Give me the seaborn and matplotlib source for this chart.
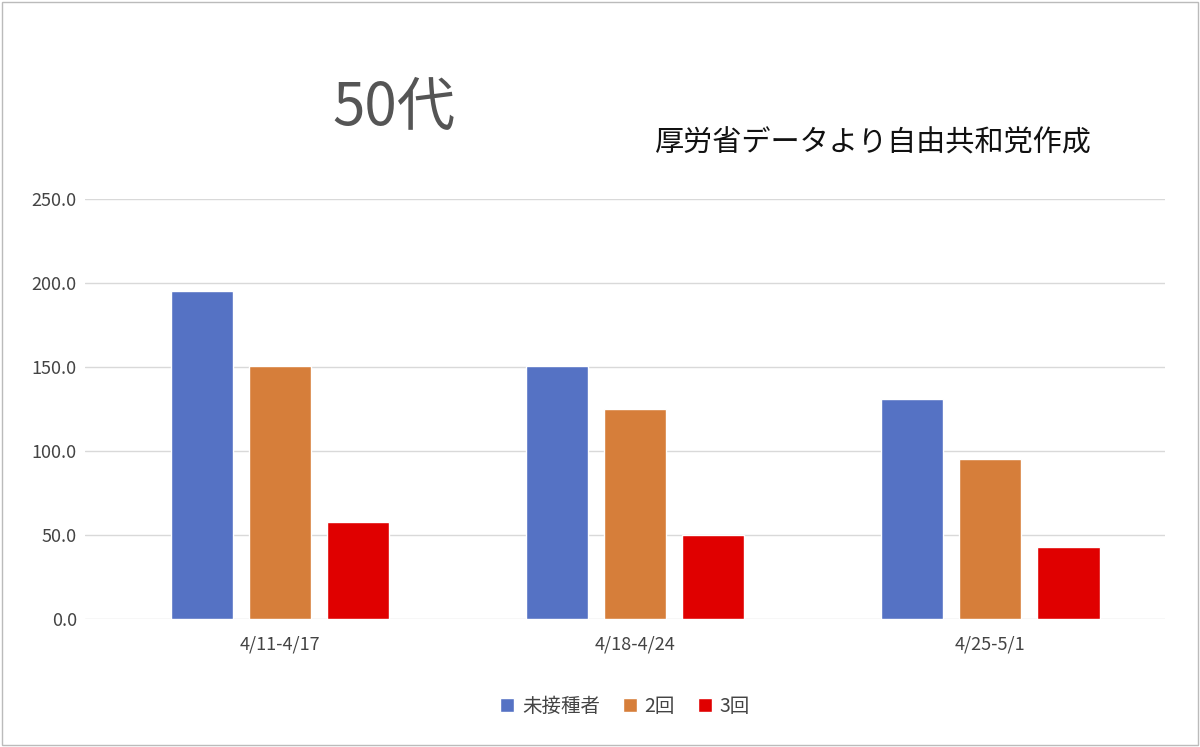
import matplotlib
matplotlib.use("Agg")
import matplotlib.pyplot as plt
import seaborn as sns
import pandas as pd
from matplotlib.patches import Rectangle

weeks = ["4/11-4/17", "4/18-4/24", "4/25-5/1"]
groups = ["未接種者", "2回", "3回"]
unvaccinated = [195.2, 150.4, 130.7]
dose2 = [150.4, 124.8, 95.5]
dose3 = [57.9, 50.1, 43.0]
colors = ["#5572c4", "#d67e3a", "#e00000"]

df = pd.DataFrame({
    "week": weeks * 3,
    "group": [g for g in groups for _ in weeks],
    "value": unvaccinated + dose2 + dose3,
})

sns.set_theme(style="white")
plt.rcParams["font.family"] = ["Noto Sans CJK JP", "DejaVu Sans"]

fig = plt.figure(figsize=(12, 7.47), dpi=100)
ax = fig.add_axes([0.071, 0.171, 0.9, 0.563])
sns.barplot(data=df, x="week", y="value", hue="group", palette=colors,
            saturation=1, width=0.66, gap=0.2, ax=ax, legend=True)

ax.set_xlim(-0.549, 2.493)
ax.set_ylim(0, 250)
ax.set_yticks(range(0, 251, 50))
ax.set_yticklabels([f"{v:.1f}" for v in range(0, 251, 50)], fontsize=13, color="#444444")
ax.tick_params(axis="x", labelsize=13, colors="#444444", length=0, pad=12)
ax.tick_params(axis="y", length=0, pad=6)
ax.yaxis.grid(True, color="#d9d9d9", linewidth=1)
ax.set_axisbelow(True)
for s in ax.spines.values():
    s.set_visible(False)
ax.set_xlabel("")
ax.set_ylabel("")

ax.legend(loc="upper center", bbox_to_anchor=(0.5, -0.14), ncol=3, frameon=False,
          fontsize=14, handlelength=0.7, handleheight=0.7, columnspacing=1.2,
          handletextpad=0.4, labelcolor="#444444")

fig.text(0.328, 0.855, "50代", fontsize=42, color="#555555", ha="center", va="center")
fig.text(0.728, 0.808, "厚労省データより自由共和党作成", fontsize=21, color="#111111",
         ha="center", va="center")
fig.add_artist(Rectangle((0.002, 0.003), 0.996, 0.994, transform=fig.transFigure,
                         fill=False, edgecolor="#bbbbbb", linewidth=1))

fig.savefig("out.png", dpi=100)
